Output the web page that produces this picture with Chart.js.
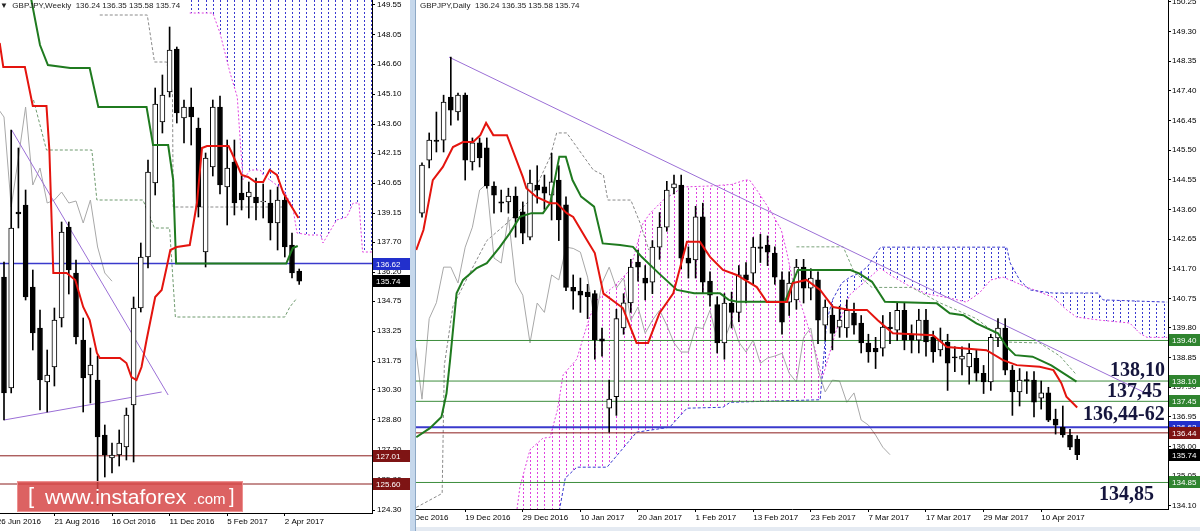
<!DOCTYPE html>
<html>
<head>
<meta charset="utf-8">
<title>GBPJPY Weekly / Daily</title>
<script src="https://cdn.jsdelivr.net/npm/chart.js@4.4.1/dist/chart.umd.min.js"></script>
<style>
  body { margin: 0; width: 1200px; height: 531px; overflow: hidden; background: #fff; position: relative; font-family: "Liberation Sans", Arial, sans-serif; }
  canvas { position: absolute; top: 0; }
  #weeklyChart { left: 0; }
  #dailyChart { left: 416px; }
  .split { position: absolute; left: 410px; top: 0; width: 5px; height: 531px; background: #c6d8ec; border-right: 1px solid #8ea9c6; }
  .strip { position: absolute; left: 416px; top: 527px; width: 784px; height: 4px; background: #e4eaf2; }
  .head { position: absolute; top: 1px; font-size: 8px; line-height: 10px; color: #222; white-space: pre; }
  .big { position: absolute; font: bold 20px "Liberation Serif", "Times New Roman", serif; line-height: 20px; color: #15153d; white-space: pre; }
  .wm { position: absolute; left: 17px; top: 481px; width: 224px; height: 29px; background: rgba(214, 70, 70, 0.85); border: 1px solid rgba(240, 150, 150, 0.9); color: #fff; white-space: pre; }
  .wm span { position: absolute; top: 0; }
</style>
</head>
<body>
<canvas id="weeklyChart" width="410" height="531"></canvas>
<div class="split"></div>
<canvas id="dailyChart" width="784" height="531"></canvas>
<div class="strip"></div>

<div class="head" style="left:0">▼  GBPJPY,Weekly  136.24 136.35 135.58 135.74</div>
<div class="head" style="left:420px">GBPJPY,Daily  136.24 136.35 135.58 135.74</div>

<div class="big" style="left:1110px;top:359px">138,10</div>
<div class="big" style="left:1107px;top:380px">137,45</div>
<div class="big" style="left:1083px;top:403px">136,44-62</div>
<div class="big" style="left:1099px;top:483px">134,85</div>

<div class="wm">
  <span style="left:10px;top:1px;font-size:22px;font-weight:300">[</span>
  <span style="left:27px;top:3px;font-size:21px">www.instaforex</span>
  <span style="left:175px;top:8px;font-size:15px">.com</span>
  <span style="left:211px;top:3px;font-size:20px">]</span>
</div>

<script>
'use strict';

// ---------- weekly GBPJPY (bar 0 = week of 3 Jul 2016, bar 41 = 16 Apr 2017) ----------
const wOpen  = [135.95,130.4,139.2,139.55,135.45,133.4,130.7,131.45,133.9,138.45,136.15,132.8,131.05,130.8,128.05,126.9,127.05,127.45,129.55,134.4,136.95,140.65,143.7,145.2,147.35,143.9,144.45,143.4,137.2,141.45,144.45,140.45,141.7,140.15,139.95,139.95,139.7,139.65,138.65,139.8,137.55,136.24];
const wHigh  = [136.7,143.3,142.4,140.3,136.3,134.3,132.3,134.4,138.7,138.7,136.8,133.9,132.4,132.0,128.55,127.65,128.3,129.4,134.95,137.65,141.8,145.4,146.05,148.45,147.45,144.8,145.4,143.9,142.15,144.8,145.0,142.8,142.8,141.0,140.7,140.9,140.6,140.3,140.45,140.0,138.15,136.35];
const wLow   = [128.8,130.15,138.4,134.8,132.3,129.3,129.2,130.5,133.45,135.1,132.6,129.2,129.65,124.55,125.95,126.15,126.5,126.8,126.7,134.2,136.4,140.05,143.15,144.95,143.65,142.65,142.55,138.95,136.45,141.0,140.1,138.55,139.05,139.3,138.9,138.8,138.9,137.8,137.3,136.95,135.9,135.58];
const wClose = [130.15,138.4,139.1,134.95,133.15,130.8,131.05,133.8,138.2,136.3,132.95,130.9,131.55,127.95,127.05,127.05,127.65,129.05,134.4,136.95,141.2,144.6,145.05,147.3,144.15,144.45,143.95,139.45,141.9,144.45,140.55,141.4,139.65,139.8,140.2,139.65,139.75,138.65,139.8,137.45,136.15,135.74];

// ichimoku lines, [bar, price]
const wTenkan = [[-0.6,147.65],[-0.1,146.45],[2.9,146.45],[4,144.5],[5.9,144.5],[6.3,142.3],[6.85,136.15],[8.7,136.15],[9.9,135.8],[11,134.45],[11.9,133.8],[12.9,132.15],[13.3,131.9],[16.1,131.9],[17,131.65],[17.7,130.95],[18.4,130.8],[19.1,131.45],[19.8,132.8],[21,134.95],[21.9,135.3],[22.6,136.45],[23.1,137.3],[24,137.45],[25.8,137.55],[26.8,139.65],[27.5,142.4],[28.2,142.5],[31.2,142.5],[31.9,141.95],[33,141.05],[33.9,140.95],[34.9,140.7],[36,140.7],[36.9,141.3],[37.9,141.05],[38.8,140.15],[40.9,138.9]];
const wKijun = [[3,151],[3.8,149.8],[5,147.55],[6.1,146.55],[9.2,146.4],[11.9,146.4],[13.1,144.45],[19.8,144.45],[20.7,142.55],[22.8,142.55],[23.5,140.8],[23.9,136.62],[39.2,136.62],[40.1,137.4],[40.8,137.5]];
const wLagStart = -1;
const wLag = [144.45,143.95,139.45,141.9,144.45,140.55,141.4,139.65,139.8,140.2,139.65,139.75,138.65,139.8,137.45,136.15,135.74];
const wSpanA = [[25.8,149.15],[29,149.15],[30,148.15],[31.4,146.15],[32.4,144.95],[32.8,142.8],[33.2,140.8],[34.2,141.3],[35.6,141.3],[36,141.05],[38.8,140.3],[40.1,139.45],[40.7,138.15],[42.4,138.05],[44,138.05],[44.3,137.65],[46.2,138.8],[47.6,138.95],[48.5,139.65],[49.3,139.65],[49.8,137.2],[51.5,137.2]];
const wSpanB = [[25.5,151],[52,151]];
const wDashUpper = [[13.3,149.05],[19.9,149.05],[20.9,146.7],[22.6,146.7],[23.4,145.1],[23.5,139.45],[39.3,139.45]];
const wDashLower = [[4.1,144.8],[5.9,142.3],[12.2,142.3],[12.9,139.8],[19.3,139.8],[20.9,138.4],[23,138.4],[23.8,133.95],[39,133.95],[39.7,134.45],[40.7,134.9]];
const wTrendDown = [[1.07,143.3],[22.8,130.05]];
const wTrendUp = [[0,128.8],[21.9,130.2]];
const wLevels = [136.62, 127.01, 125.60];
const wTags = [136.62, 135.74, 127.01, 125.60];
const wTicks = [149.55,148.05,146.60,145.10,143.60,142.15,140.65,139.15,137.70,136.20,134.75,133.25,131.75,130.30,128.80,127.30,125.80,124.30];
const wDateBars = [-1, 7, 15, 23, 31, 39];
const wDates = ['26 Jun 2016','21 Aug 2016','16 Oct 2016','11 Dec 2016','5 Feb 2017','2 Apr 2017'];

// ---------- daily GBPJPY (bar 0 = 8 Dec 2016, bar 91 = 17 Apr 2017) ----------
const dOpen = [143.48,145.18,145.82,145.82,147.20,146.72,147.26,145.12,145.73,145.57,
  144.35,143.84,143.84,144.03,143.52,142.71,144.38,144.32,144.06,144.54,
  143.75,141.10,140.98,140.95,140.90,139.45,137.23,137.60,139.80,140.60,
  141.91,141.40,141.27,142.39,143.03,144.29,144.38,142.04,141.98,143.36,
  141.30,140.55,139.32,140.60,140.30,141.50,141.56,142.40,142.46,142.20,
  141.34,140.63,140.70,141.75,141.08,141.34,139.89,140.21,139.83,139.80,
  140.28,139.96,139.32,139.15,139.15,139.83,139.73,140.37,139.57,139.41,
  140.05,139.50,139.10,139.35,138.88,138.80,138.55,138.83,138.35,138.07,
  139.48,139.80,138.45,137.75,138.15,138.13,137.55,137.72,136.88,136.62,
  136.37,136.24];
const dHigh = [145.09,146.05,146.72,147.26,148.48,147.33,147.33,145.89,145.89,145.89,
  144.48,144.22,144.28,144.32,143.84,144.86,145.00,144.70,145.40,145.00,
  144.00,141.50,141.40,141.20,141.00,139.80,138.13,140.40,140.90,142.00,
  142.30,141.80,142.60,143.50,144.50,144.70,144.70,142.40,143.70,143.80,
  141.60,140.80,140.90,140.95,141.80,141.90,142.70,142.80,142.75,142.40,
  141.60,141.60,142.00,142.00,141.70,141.60,140.70,140.50,140.50,140.70,
  140.60,140.20,139.60,139.50,140.20,140.30,140.60,140.60,139.90,140.40,
  140.40,139.70,139.80,139.60,139.20,139.20,139.30,139.10,138.60,139.60,
  140.10,140.10,138.60,138.50,138.40,138.40,138.10,137.90,137.20,137.30,
  136.55,136.35];
const dLow = [143.35,144.93,145.44,145.44,146.30,146.46,144.54,144.86,144.96,144.28,
  143.48,143.52,143.48,142.71,142.50,142.62,143.80,143.60,143.26,142.60,
  141.00,140.40,140.30,140.10,138.80,138.90,136.46,137.00,139.60,140.30,
  141.30,140.70,140.90,142.00,142.90,144.10,141.70,141.40,141.40,140.90,
  140.50,139.00,138.80,139.80,140.00,140.60,141.20,141.90,141.80,141.20,
  139.60,140.20,140.40,140.60,140.70,139.30,139.40,139.10,139.50,139.50,
  139.60,139.00,138.70,138.50,138.90,139.30,139.40,139.10,139.00,139.00,
  138.90,138.70,138.90,137.80,138.40,138.30,138.00,138.10,137.70,137.80,
  139.20,138.30,137.00,137.30,137.70,136.95,137.20,136.80,136.40,136.30,
  135.90,135.58];
const dClose = [145.02,145.82,145.78,147.04,146.78,147.26,145.18,145.73,145.25,144.35,
  144.06,143.80,144.03,143.32,142.84,144.44,144.22,144.12,144.48,143.26,
  141.10,140.98,140.85,140.80,139.42,139.38,137.52,140.10,140.61,141.75,
  141.75,141.24,142.39,143.03,144.22,144.42,142.04,141.88,143.36,141.27,
  140.85,139.32,140.60,140.30,141.50,141.34,142.39,142.35,142.23,141.43,
  139.99,141.24,141.75,141.08,141.40,140.05,140.47,139.63,140.05,140.37,
  139.89,139.32,139.03,139.03,139.83,139.78,140.37,139.41,139.41,140.05,
  139.35,139.03,139.41,138.67,138.84,138.90,138.99,138.35,138.07,139.50,
  139.80,138.45,137.75,138.13,138.10,137.42,137.72,136.85,136.69,136.37,
  135.98,135.74];

const dTenkan = [[-0.8,142.3],[0.2,142.94],[1.5,144.54],[2.9,144.96],[4.3,145.6],[5.7,145.76],[7.1,145.76],[8.1,145.98],[8.9,146.37],[9.9,145.98],[11.8,145.98],[14,144.64],[14.5,144.28],[15.9,144.0],[17.8,143.8],[18.7,143.8],[20.1,143.48],[21,143.36],[22.9,142.62],[24,142.2],[25.2,140.9],[27.9,140.44],[29.8,139.32],[31.4,139.32],[33,140.28],[34.9,140.91],[36.8,142.56],[38.6,142.56],[40,142.08],[41.8,141.66],[43.7,141.5],[46.5,141.11],[47.9,140.63],[50.7,140.63],[51.5,141.24],[53.4,141.34],[55.3,141.02],[57.1,140.47],[59.4,140.38],[61.8,140.38],[63.3,140.05],[65.4,139.63],[71,139.57],[72.9,139.19],[78.4,139.09],[80.7,138.77],[82.6,138.61],[85.8,138.56],[87.7,138.45],[88.8,138.03],[89.5,137.6],[91,137.25]];
const dKijun = [[-0.8,136.3],[1.1,136.59],[2.7,136.95],[3.4,137.7],[3.9,138.77],[4.8,140.91],[5.7,141.34],[7.6,141.72],[9,141.88],[10.8,142.39],[12.2,142.84],[13.6,143.36],[15.2,143.48],[16.8,143.48],[17.8,143.8],[18.4,144.5],[19.07,145.29],[19.97,145.29],[20.9,144.54],[22.1,144.01],[23.9,143.69],[25.1,142.51],[27.5,142.46],[29.3,142.4],[30.5,142.08],[32.9,141.55],[35.4,141.02],[37.8,140.91],[41.4,140.91],[42.6,140.7],[43.8,140.64],[50.4,140.64],[52.2,141.66],[59.5,141.66],[60.7,141.55],[62.5,141.28],[64.3,140.64],[71.5,140.59],[73.3,140.27],[75.2,140.21],[77,139.95],[80,139.63],[81.2,139.2],[82.4,138.93],[84.8,138.88],[87.4,138.6],[89.5,138.29],[90.9,138.08]];
const dLagStart = -1;
const dLag = [139.38,137.52,140.10,140.61,141.75,141.75,141.24,142.39,143.03,144.22,144.42,142.04,141.88,143.36,141.27,140.85,139.32,140.60,140.30,141.50,141.34,142.39,142.35,142.23,141.43,139.99,141.24,141.75,141.08,141.40,140.05,140.47,139.63,140.05,140.37,139.89,139.32,139.03,139.03,139.83,139.78,140.37,139.41,139.41,140.05,139.35,139.03,139.41,138.67,138.84,138.90,138.99,138.35,138.07,139.50,139.80,138.45,137.75,138.13,138.10,137.42,137.72,136.85,136.69,136.37,135.98,135.74];
const dSpanA = [[13.2,134.0],[13.6,134.7],[15,135.9],[16.8,136.27],[17.8,136.3],[18.8,137.17],[19.6,138.3],[21.5,138.8],[22.4,139.5],[23.3,140.15],[24.3,140.7],[26.5,141.1],[28.9,141.66],[30.7,143.16],[31.7,143.48],[33.5,143.9],[36.3,144.32],[40,144.35],[43,144.4],[44.9,144.54],[45.5,144.54],[46.8,144.12],[48.6,143.48],[49.9,142.94],[50.6,142.3],[51.5,141.3],[53,140.3],[54.5,139.2],[55.6,138.2],[56.5,138.9],[57.5,139.7],[59.4,140.86],[61.8,141.34],[63.6,141.72],[65,141.5],[67.4,141.18],[70,140.9],[73.3,140.76],[75.6,140.63],[77.4,140.92],[79,141.34],[80.7,141.43],[84,141.11],[87.6,140.79],[89.6,140.37],[90.9,140.15],[94.2,140.05],[98.3,139.96],[99.7,139.63],[100.7,139.5],[103.5,139.5]];
const dSpanB = [[12.5,133.0],[18.8,133.6],[19.9,134.99],[21.5,135.34],[25.7,135.34],[29.8,136.46],[34.4,136.62],[36.8,137.23],[41.8,137.26],[42.8,137.42],[55.3,137.5],[56.2,140.0],[57,140.7],[58.3,141.24],[59.5,141.44],[60.7,141.55],[61.9,141.77],[63.1,142.19],[63.7,142.39],[81.2,142.39],[81.7,141.88],[83,141.34],[84.4,141.02],[87.6,140.92],[93.9,140.92],[94.6,140.7],[103.5,140.63]];
const dDashGray = [[-0.8,134.05],[2.8,134.5],[3.1,138.6],[4.3,140.5],[6.5,141.5],[9,142.6],[12,143.2],[15,143.9],[17.8,145.28],[18.7,146.05],[20.1,146.05],[21.5,145.6],[23.8,144.86],[25.2,144.7],[25.8,143.9],[29,143.9],[30.3,143.16],[31.5,142.3]];
const dDashGreen = [[52,142.4],[58.5,142.4],[60,141.6],[62.5,141.1],[68,141.1],[72,140.6],[77,140.1],[81.2,139.35],[85.8,139.32],[88.6,138.9],[90.9,138.3]];
const dTrend = [[3.75,148.48],[101,137.66]];
const dGreenLevels = [139.40, 138.10, 137.45, 134.85];
const dBlueLevel = 136.62;
const dRedLevel = 136.44;
const dTags = [139.40, 138.10, 137.45, 136.62, 136.44, 135.74, 134.85];
const dTicks = [150.25,149.30,148.35,147.40,146.45,145.50,144.55,143.60,142.65,141.70,140.75,139.80,138.85,137.90,136.95,136.00,135.05,134.10];
const dDateBars = [-2, 6, 14, 22, 30, 38, 46, 54, 62, 70, 78, 86];
const dDates = ['7 Dec 2016','19 Dec 2016','29 Dec 2016','10 Jan 2017','20 Jan 2017','1 Feb 2017','13 Feb 2017','23 Feb 2017','7 Mar 2017','17 Mar 2017','29 Mar 2017','10 Apr 2017'];

// ---------- styling ----------
const C_RED = '#e4140e';
const C_GREEN = '#1f7a1f';
const C_LEVEL_GREEN = '#3d8d3d';
const C_BLUE = '#3a3acc';
const C_DARKRED = '#8b1c1c';
const C_PURPLE = '#9b6fd6';
const C_PINK = '#e040e0';
const C_CLOUDBLUE = '#3838d0';

Chart.defaults.font.family = '"Liberation Sans", Arial, sans-serif';
Chart.defaults.font.size = 8;
Chart.defaults.color = '#000';

const pts = arr => arr.map(p => ({ x: p[0], y: p[1] }));
const lagPts = (vals, start) => vals.map((v, i) => ({ x: start + i, y: v }));
const flat = v => [{ x: -10, y: v }, { x: 200, y: v }];

const dotPattern = (color, offset) => {
  const c = document.createElement('canvas');
  c.width = 36;
  c.height = 4;
  const g = c.getContext('2d');
  g.fillStyle = color;
  [0, 7, 14, 22, 29].forEach(x => g.fillRect(x, 0, 1, 2));
  const p = g.createPattern(c, 'repeat');
  p.setTransform(new DOMMatrix().translate(offset, 0));
  return p;
};

const line = (data, color, width, order, dash) => ({
  type: 'line', data, borderColor: color, borderWidth: width, borderDash: dash || [],
  pointRadius: 0, tension: 0, fill: false, order,
});

const candles = (open, high, low, close, bodyWidth) => [
  {
    type: 'bar', order: 6, grouped: false, barThickness: 1, backgroundColor: '#000',
    data: open.map((o, i) => ({ x: i, y: [low[i], high[i]] })),
  },
  {
    type: 'bar', order: 5, grouped: false, barThickness: bodyWidth,
    borderColor: '#000', borderWidth: 1, borderSkipped: false,
    backgroundColor: open.map((o, i) => (close[i] > o ? '#fff' : '#000')),
    data: open.map((o, i) => ({ x: i, y: [Math.min(o, close[i]), Math.max(o, close[i])] })),
  },
];

const priceTags = {
  id: 'priceTags',
  afterDraw(chart, args, opts) {
    const { ctx } = chart;
    const ys = chart.scales.y;
    ctx.save();
    ctx.font = '8px "Liberation Sans", Arial, sans-serif';
    ctx.textBaseline = 'middle';
    opts.values.forEach((v, i) => {
      const py = Math.round(ys.getPixelForValue(v));
      ctx.fillStyle = opts.colors[i];
      ctx.fillRect(ys.left + 1, py - 6, ys.width, 12);
      ctx.fillStyle = '#fff';
      ctx.fillText(v.toFixed(2), ys.left + 4, py + 0.5);
    });
    ctx.restore();
  },
};

const makeOptions = (cfg) => ({
  responsive: false,
  maintainAspectRatio: false,
  animation: false,
  events: [],
  layout: { padding: 0, autoPadding: false },
  plugins: {
    legend: { display: false },
    tooltip: { enabled: false },
    priceTags: { values: cfg.tags, colors: cfg.tagColors },
  },
  scales: {
    x: {
      type: 'linear', min: cfg.xMin, max: cfg.xMax, offset: false,
      afterBuildTicks: s => { s.ticks = cfg.dateBars.map(v => ({ value: v })); },
      afterFit: s => { s.height = cfg.xHeight; s.paddingLeft = 0; s.paddingRight = 0; },
      grid: { offset: false, drawOnChartArea: false, drawTicks: true, tickLength: 3, color: '#000' },
      border: { display: true, color: '#000' },
      ticks: { autoSkip: false, maxRotation: 0, align: 'start', padding: 1, color: '#000', callback: (v, i) => cfg.dates[i] },
    },
    y: {
      type: 'linear', position: 'right', min: cfg.yMin, max: cfg.yMax, beginAtZero: false,
      afterBuildTicks: s => { s.ticks = cfg.ticks.map(v => ({ value: v })); },
      afterFit: s => { s.width = cfg.yWidth; s.paddingTop = 0; s.paddingBottom = 0; },
      grid: { drawOnChartArea: false, drawTicks: true, tickLength: 3, color: '#000' },
      border: { display: true, color: '#000' },
      ticks: { autoSkip: false, padding: cfg.yPad, color: '#000', callback: v => v.toFixed(2) },
    },
  },
});

// ---------- weekly chart ----------
new Chart(document.getElementById('weeklyChart'), {
  type: 'bar',
  data: {
    datasets: [
      Object.assign(line(pts(wSpanA), C_PINK, 1, 20, [2, 2]), {
        fill: { target: '+1', above: dotPattern(C_PINK, 4), below: dotPattern(C_CLOUDBLUE, 4) },
      }),
      line(pts(wSpanB), C_CLOUDBLUE, 1, 19, [3, 2]),
      line(pts(wDashUpper), '#8a8a8a', 1, 15, [3, 2]),
      line(pts(wDashLower), '#6f9a6f', 1, 15, [3, 2]),
      line(lagPts(wLag, wLagStart), '#a8a8a8', 1, 14),
      line(flat(wLevels[0]), C_BLUE, 1.5, 12),
      line(flat(wLevels[1]), C_DARKRED, 1, 12),
      line(flat(wLevels[2]), C_DARKRED, 1, 12),
      line(pts(wTrendDown), C_PURPLE, 1, 11),
      line(pts(wTrendUp), C_PURPLE, 1, 11),
      ...candles(wOpen, wHigh, wLow, wClose, 5),
      line(pts(wKijun), C_GREEN, 2, 3),
      line(pts(wTenkan), C_RED, 2, 2),
    ],
  },
  options: makeOptions({
    xMin: -4 / 7.2, xMax: 368 / 7.2, xHeight: 18, dateBars: wDateBars, dates: wDates,
    yMin: 124.15, yMax: 149.80, yWidth: 38, yPad: 2, ticks: wTicks,
    tags: wTags, tagColors: ['#2230cc', '#000000', '#7e1414', '#7e1414'],
  }),
  plugins: [priceTags],
});

// ---------- daily chart ----------
new Chart(document.getElementById('dailyChart'), {
  type: 'bar',
  data: {
    datasets: [
      Object.assign(line(pts(dSpanA), C_PINK, 1, 20, [2, 2]), {
        fill: { target: '+1', above: dotPattern(C_PINK, 6), below: dotPattern(C_CLOUDBLUE, 6) },
      }),
      line(pts(dSpanB), C_CLOUDBLUE, 1, 19, [3, 2]),
      line(pts(dDashGray), '#8a8a8a', 1, 15, [3, 2]),
      line(pts(dDashGreen), '#7aa27a', 1, 15, [3, 2]),
      line(lagPts(dLag, dLagStart), '#a8a8a8', 1, 14),
      ...dGreenLevels.map(v => line(flat(v), C_LEVEL_GREEN, 1, 12)),
      line(flat(dBlueLevel), C_BLUE, 2, 12),
      line(flat(dRedLevel), C_DARKRED, 1, 12),
      line(pts(dTrend), C_PURPLE, 1, 11),
      ...candles(dOpen, dHigh, dLow, dClose, 5),
      line(pts(dKijun), C_GREEN, 2, 3),
      line(pts(dTenkan), C_RED, 2, 2),
    ],
  },
  options: makeOptions({
    xMin: -6 / 7.2, xMax: 746 / 7.2, xHeight: 22, dateBars: dDateBars, dates: dDates,
    yMin: 134.0, yMax: 150.31, yWidth: 32, yPad: 1, ticks: dTicks,
    tags: dTags, tagColors: ['#2f842f', '#2f842f', '#2f842f', '#2230cc', '#7e1414', '#000000', '#2f842f'],
  }),
  plugins: [priceTags],
});
</script>
</body>
</html>
